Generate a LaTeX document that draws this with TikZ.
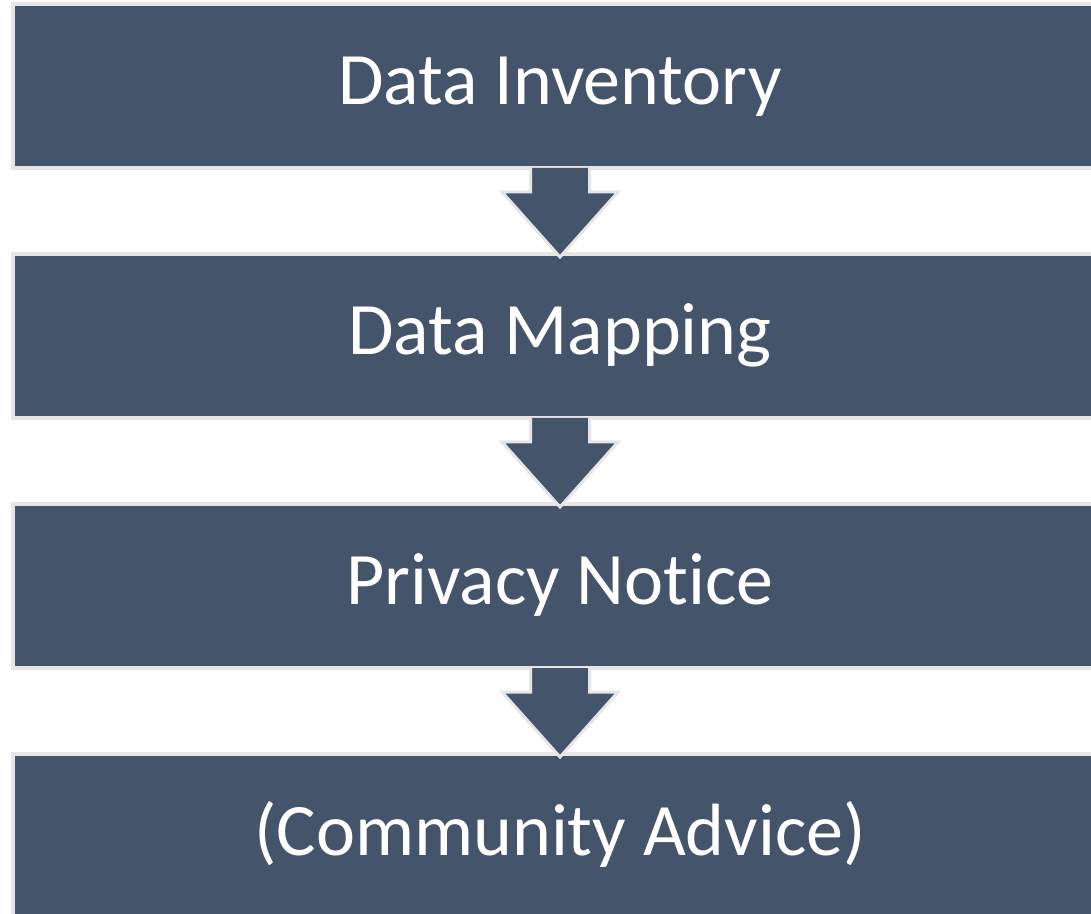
\documentclass[tikz,border=0pt]{standalone}
\usepackage{fontspec}
\setmainfont{Carlito}[Ligatures=NoCommon]
\usepackage{tikz}
\usetikzlibrary{positioning,calc}

\definecolor{slate}{HTML}{44546A}
\definecolor{edgegray}{HTML}{E6E6E6}

\tikzset{
  stepbox/.style={rectangle,fill=slate,draw=edgegray,line width=4pt,
    minimum width=1094pt,minimum height=164pt,inner sep=0pt,outer sep=0pt,
    text height=56pt,text depth=18pt,
    text=white,font=\fontsize{74}{88}\selectfont},
  steparrow/.style={fill=slate,draw=edgegray,line width=3pt,line join=miter}
}

% block arrow from the bottom of one box to the top of the next
\newcommand{\flowarrow}[2]{%
  \filldraw[steparrow] ($(#1.south)+(-29.5pt,0)$) -- ($(#2.north)+(-29.5pt,62pt)$)
    -- ($(#2.north)+(-58pt,62pt)$) -- ($(#2.north)+(0,-3pt)$)
    -- ($(#2.north)+(58pt,62pt)$) -- ($(#2.north)+(29.5pt,62pt)$)
    -- ($(#1.south)+(29.5pt,0)$);}

\begin{document}
\begin{tikzpicture}[x=1pt,y=1pt,node distance=86pt]
\useasboundingbox (0,0) rectangle (1091,913);

%the four steps, top to bottom
\node[stepbox] (inventory) at (560,827) {Data Inventory};
\node[stepbox,below=of inventory] (mapping) {Data Mapping};
\node[stepbox,below=of mapping] (notice) {Privacy Notice};
\node[stepbox,below=of notice] (advice) {(Community Advice)};

%arrows between the steps
\flowarrow{inventory}{mapping}
\flowarrow{mapping}{notice}
\flowarrow{notice}{advice}

\end{tikzpicture}
\end{document}
